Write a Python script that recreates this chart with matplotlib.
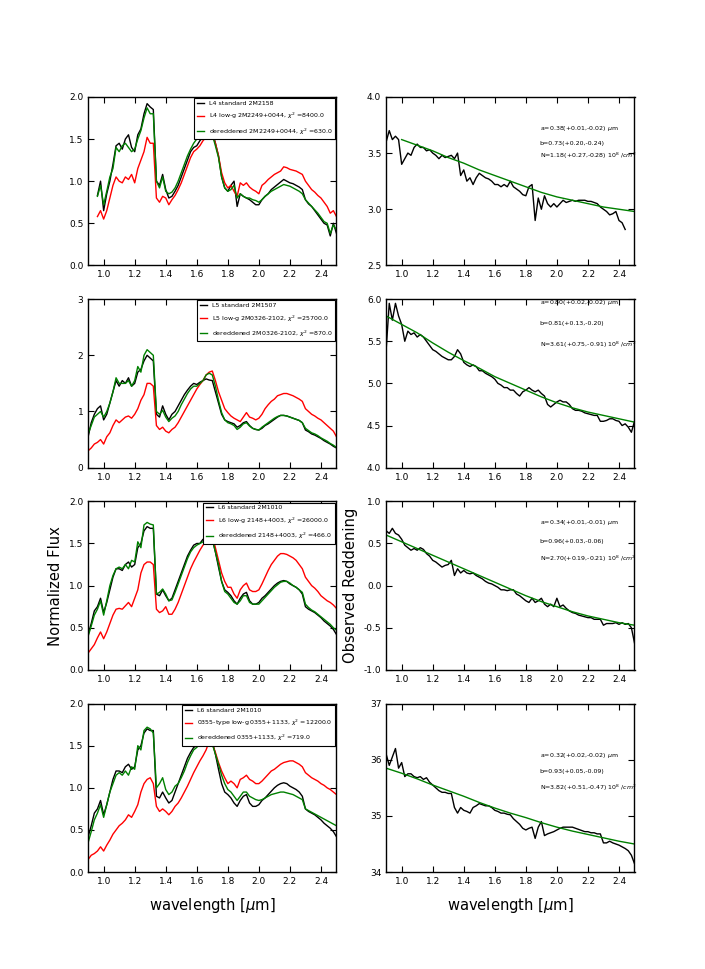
import matplotlib
matplotlib.use("Agg")
import matplotlib.pyplot as plt
from matplotlib.ticker import MultipleLocator

# wavelength grid of the spectra (micron)
wave = [0.90, 0.92, 0.94, 0.96, 0.98, 1.00, 1.02, 1.04, 1.06, 1.08,
        1.10, 1.12, 1.14, 1.16, 1.18, 1.20, 1.22, 1.24, 1.26, 1.28,
        1.30, 1.32, 1.34, 1.36, 1.38, 1.40, 1.42, 1.44, 1.46, 1.48,
        1.50, 1.52, 1.54, 1.56, 1.58, 1.60, 1.62, 1.64, 1.66, 1.68,
        1.70, 1.72, 1.74, 1.76, 1.78, 1.80, 1.82, 1.84, 1.86, 1.88,
        1.90, 1.92, 1.94, 1.96, 1.98, 2.00, 2.02, 2.04, 2.06, 2.08,
        2.10, 2.12, 2.14, 2.16, 2.18, 2.20, 2.22, 2.24, 2.26, 2.28,
        2.30, 2.32, 2.34, 2.36, 2.38, 2.40, 2.42, 2.44, 2.46, 2.48,
        2.50]
wave_l4 = wave[3:]          # L4 spectra start at 0.96
fit_wave = [0.9, 1.0, 1.1, 1.2, 1.3, 1.4, 1.5, 1.6, 1.7, 1.8,
            1.9, 2.0, 2.1, 2.2, 2.3, 2.4, 2.5]

# ---- row 1: L4 ----
std_l4 = [0.83, 1.00, 0.65, 0.85, 1.00, 1.20, 1.42, 1.45, 1.38, 1.50,
          1.55, 1.40, 1.35, 1.55, 1.62, 1.80, 1.92, 1.88, 1.85, 1.00,
          0.95, 1.08, 0.90, 0.80, 0.82, 0.88, 0.95, 1.05, 1.15, 1.25,
          1.35, 1.40, 1.42, 1.48, 1.52, 1.55, 1.58, 1.60, 1.45, 1.30,
          1.05, 0.92, 0.88, 0.95, 1.00, 0.70, 0.85, 0.82, 0.80, 0.78,
          0.75, 0.72, 0.72, 0.78, 0.82, 0.85, 0.90, 0.93, 0.96, 0.99,
          1.02, 1.00, 0.98, 0.97, 0.95, 0.93, 0.90, 0.78, 0.73, 0.70,
          0.65, 0.60, 0.55, 0.50, 0.48, 0.35, 0.50, 0.38]
lowg_l4 = [0.58, 0.65, 0.55, 0.65, 0.80, 0.95, 1.05, 1.00, 0.98, 1.05,
           1.02, 1.08, 0.98, 1.15, 1.25, 1.35, 1.52, 1.45, 1.45, 0.80,
           0.75, 0.82, 0.80, 0.72, 0.78, 0.83, 0.90, 0.98, 1.08, 1.18,
           1.28, 1.35, 1.38, 1.42, 1.48, 1.52, 1.58, 1.55, 1.45, 1.30,
           1.10, 0.98, 0.92, 0.95, 0.88, 0.82, 0.98, 0.95, 0.98, 0.93,
           0.90, 0.88, 0.85, 0.95, 0.98, 1.02, 1.05, 1.08, 1.10, 1.12,
           1.17, 1.16, 1.14, 1.13, 1.12, 1.10, 1.08, 1.00, 0.95, 0.90,
           0.87, 0.83, 0.80, 0.75, 0.70, 0.62, 0.65, 0.58]
dered_l4 = [0.82, 0.95, 0.72, 0.88, 1.05, 1.15, 1.40, 1.35, 1.42, 1.45,
            1.40, 1.35, 1.38, 1.50, 1.60, 1.75, 1.87, 1.80, 1.80, 1.00,
            0.92, 1.05, 0.88, 0.85, 0.87, 0.92, 1.00, 1.10, 1.20, 1.30,
            1.38, 1.45, 1.50, 1.52, 1.55, 1.58, 1.60, 1.55, 1.42, 1.28,
            1.05, 0.92, 0.88, 0.90, 0.95, 0.80, 0.85, 0.82, 0.80, 0.80,
            0.78, 0.77, 0.75, 0.78, 0.82, 0.85, 0.88, 0.90, 0.92, 0.94,
            0.96, 0.95, 0.94, 0.92, 0.90, 0.88, 0.85, 0.78, 0.74, 0.70,
            0.66, 0.62, 0.57, 0.52, 0.50, 0.38, 0.48, 0.42]

# ---- row 2: L5 ----
std_l5 = [0.55, 0.80, 0.95, 1.05, 1.10, 0.85, 0.95, 1.15, 1.35, 1.55,
          1.45, 1.55, 1.50, 1.60, 1.45, 1.50, 1.70, 1.75, 1.90, 2.00,
          1.95, 1.90, 0.95, 0.90, 1.10, 0.95, 0.85, 0.95, 1.00, 1.10,
          1.20, 1.30, 1.38, 1.45, 1.50, 1.48, 1.52, 1.55, 1.58, 1.56,
          1.55, 1.35, 1.15, 0.95, 0.85, 0.82, 0.80, 0.78, 0.72, 0.75,
          0.80, 0.82, 0.75, 0.70, 0.68, 0.67, 0.70, 0.75, 0.78, 0.82,
          0.86, 0.90, 0.93, 0.93, 0.92, 0.90, 0.88, 0.86, 0.84, 0.80,
          0.67, 0.64, 0.60, 0.58, 0.55, 0.52, 0.48, 0.45, 0.42, 0.38,
          0.35]
lowg_l5 = [0.30, 0.35, 0.42, 0.45, 0.50, 0.42, 0.55, 0.62, 0.75, 0.85,
           0.80, 0.85, 0.90, 0.92, 0.88, 0.95, 1.05, 1.20, 1.30, 1.50,
           1.50, 1.45, 0.75, 0.68, 0.72, 0.65, 0.62, 0.68, 0.72, 0.80,
           0.90, 1.00, 1.10, 1.20, 1.30, 1.40, 1.48, 1.55, 1.65, 1.70,
           1.72, 1.55, 1.35, 1.20, 1.05, 0.98, 0.92, 0.88, 0.85, 0.82,
           0.90, 0.98, 0.90, 0.88, 0.85, 0.88, 0.95, 1.05, 1.12, 1.18,
           1.22, 1.28, 1.30, 1.32, 1.32, 1.30, 1.28, 1.25, 1.22, 1.18,
           1.05, 1.00, 0.95, 0.92, 0.88, 0.85, 0.80, 0.75, 0.70, 0.65,
           0.55]
dered_l5 = [0.60, 0.75, 0.90, 0.95, 1.00, 0.90, 1.00, 1.15, 1.35, 1.60,
            1.50, 1.50, 1.50, 1.55, 1.45, 1.55, 1.80, 1.70, 2.00, 2.10,
            2.05, 2.00, 1.00, 0.95, 1.02, 0.90, 0.82, 0.88, 0.92, 1.00,
            1.12, 1.22, 1.32, 1.40, 1.45, 1.45, 1.50, 1.55, 1.65, 1.68,
            1.65, 1.45, 1.20, 0.98, 0.85, 0.80, 0.78, 0.75, 0.68, 0.72,
            0.78, 0.80, 0.74, 0.70, 0.68, 0.67, 0.72, 0.76, 0.80, 0.84,
            0.88, 0.91, 0.93, 0.93, 0.92, 0.90, 0.88, 0.86, 0.84, 0.80,
            0.70, 0.66, 0.62, 0.60, 0.57, 0.53, 0.50, 0.47, 0.43, 0.40,
            0.36]

# ---- rows 3 and 4: L6 standard ----
std_l6 = [0.42, 0.55, 0.70, 0.75, 0.85, 0.68, 0.80, 0.95, 1.10, 1.20,
          1.20, 1.18, 1.25, 1.28, 1.22, 1.25, 1.45, 1.50, 1.65, 1.70,
          1.68, 1.68, 0.90, 0.88, 0.95, 0.88, 0.82, 0.85, 0.95, 1.05,
          1.15, 1.25, 1.35, 1.42, 1.48, 1.50, 1.50, 1.55, 1.55, 1.60,
          1.55, 1.40, 1.22, 1.05, 0.95, 0.92, 0.88, 0.82, 0.78, 0.85,
          0.90, 0.92, 0.82, 0.78, 0.78, 0.80, 0.85, 0.88, 0.92, 0.96,
          1.00, 1.03, 1.05, 1.06, 1.05, 1.02, 1.00, 0.98, 0.95, 0.90,
          0.75, 0.72, 0.70, 0.68, 0.65, 0.62, 0.58, 0.55, 0.52, 0.48,
          0.42]
lowg_2148 = [0.20, 0.25, 0.30, 0.38, 0.45, 0.37, 0.45, 0.55, 0.65, 0.72,
             0.73, 0.72, 0.76, 0.80, 0.75, 0.85, 0.95, 1.15, 1.25, 1.28,
             1.28, 1.25, 0.72, 0.68, 0.70, 0.75, 0.66, 0.66, 0.72, 0.80,
             0.90, 1.00, 1.10, 1.20, 1.28, 1.35, 1.42, 1.48, 1.52, 1.58,
             1.60, 1.45, 1.30, 1.15, 1.05, 0.98, 0.98, 0.90, 0.85, 0.95,
             1.00, 1.03, 0.95, 0.93, 0.93, 0.95, 1.02, 1.10, 1.18, 1.25,
             1.30, 1.35, 1.38, 1.38, 1.37, 1.35, 1.33, 1.30, 1.25, 1.20,
             1.10, 1.05, 1.00, 0.97, 0.93, 0.88, 0.85, 0.82, 0.80, 0.77,
             0.73]
dered_2148 = [0.40, 0.52, 0.65, 0.72, 0.82, 0.65, 0.82, 1.00, 1.12, 1.20,
              1.22, 1.20, 1.25, 1.20, 1.30, 1.28, 1.52, 1.45, 1.72, 1.75,
              1.73, 1.72, 0.90, 0.92, 0.96, 0.90, 0.82, 0.83, 0.92, 1.02,
              1.12, 1.22, 1.32, 1.40, 1.45, 1.48, 1.50, 1.52, 1.55, 1.62,
              1.55, 1.40, 1.25, 1.05, 0.93, 0.90, 0.85, 0.80, 0.78, 0.82,
              0.88, 0.88, 0.80, 0.78, 0.78, 0.78, 0.82, 0.86, 0.90, 0.94,
              0.98, 1.01, 1.04, 1.05, 1.05, 1.03, 1.00, 0.98, 0.95, 0.92,
              0.78, 0.74, 0.71, 0.69, 0.66, 0.63, 0.60, 0.57, 0.54, 0.50,
              0.47]
lowg_0355 = [0.15, 0.20, 0.22, 0.25, 0.30, 0.25, 0.32, 0.38, 0.45, 0.50,
             0.55, 0.58, 0.62, 0.68, 0.65, 0.72, 0.80, 0.95, 1.05, 1.10,
             1.12, 1.05, 0.78, 0.72, 0.75, 0.72, 0.68, 0.72, 0.78, 0.82,
             0.88, 0.95, 1.02, 1.10, 1.18, 1.25, 1.32, 1.38, 1.45, 1.55,
             1.52, 1.42, 1.30, 1.20, 1.12, 1.05, 1.08, 1.05, 1.00, 1.10,
             1.12, 1.15, 1.10, 1.08, 1.05, 1.05, 1.08, 1.12, 1.16, 1.20,
             1.22, 1.25, 1.28, 1.30, 1.31, 1.32, 1.32, 1.30, 1.28, 1.25,
             1.18, 1.15, 1.12, 1.10, 1.08, 1.05, 1.03, 1.00, 0.98, 0.95,
             0.92]
dered_0355 = [0.35, 0.48, 0.62, 0.70, 0.80, 0.65, 0.80, 0.95, 1.05, 1.15,
              1.18, 1.15, 1.20, 1.15, 1.25, 1.22, 1.50, 1.45, 1.68, 1.72,
              1.70, 1.65, 1.00, 1.05, 1.12, 0.98, 0.92, 0.95, 1.02, 1.05,
              1.12, 1.20, 1.30, 1.38, 1.45, 1.48, 1.52, 1.55, 1.58, 1.60,
              1.52, 1.40, 1.28, 1.15, 1.05, 0.98, 0.95, 0.90, 0.85, 0.90,
              0.95, 0.95, 0.90, 0.88, 0.86, 0.85, 0.86, 0.88, 0.90, 0.92,
              0.93, 0.94, 0.95, 0.95, 0.94, 0.93, 0.92, 0.90, 0.88, 0.86,
              0.75, 0.73, 0.71, 0.69, 0.67, 0.65, 0.63, 0.61, 0.59, 0.57,
              0.55]

# ---- observed reddening (right column) ----
redd_l4 = [3.60, 3.70, 3.62, 3.65, 3.62, 3.40, 3.45, 3.50, 3.48, 3.55,
           3.58, 3.55, 3.55, 3.52, 3.53, 3.50, 3.48, 3.45, 3.48, 3.46,
           3.47, 3.48, 3.45, 3.50, 3.30, 3.35, 3.25, 3.28, 3.22, 3.28,
           3.32, 3.30, 3.28, 3.27, 3.25, 3.22, 3.22, 3.20, 3.22, 3.20,
           3.25, 3.20, 3.18, 3.16, 3.13, 3.12, 3.20, 3.22, 2.90, 3.10,
           3.00, 3.12, 3.05, 3.02, 3.05, 3.02, 3.05, 3.08, 3.06, 3.07,
           3.08, 3.07, 3.08, 3.08, 3.08, 3.07, 3.07, 3.06, 3.05, 3.02,
           3.00, 2.98, 2.95, 2.96, 2.98, 2.90, 2.88, 2.82]
fit_l4 = [3.65, 3.62, 3.57, 3.52, 3.46, 3.41, 3.35, 3.30, 3.25, 3.20,
          3.15, 3.11, 3.08, 3.05, 3.02, 3.00, 2.98]
redd_l5 = [5.40, 5.95, 5.75, 5.95, 5.80, 5.70, 5.50, 5.62, 5.58, 5.60,
           5.55, 5.58, 5.55, 5.50, 5.45, 5.40, 5.38, 5.35, 5.32, 5.30,
           5.28, 5.28, 5.32, 5.40, 5.35, 5.25, 5.22, 5.20, 5.22, 5.20,
           5.15, 5.15, 5.12, 5.10, 5.08, 5.05, 5.00, 4.98, 4.95, 4.95,
           4.92, 4.92, 4.88, 4.85, 4.90, 4.92, 4.95, 4.92, 4.90, 4.92,
           4.88, 4.85, 4.75, 4.72, 4.75, 4.78, 4.80, 4.78, 4.78, 4.75,
           4.70, 4.68, 4.68, 4.67, 4.65, 4.64, 4.63, 4.62, 4.62, 4.55,
           4.55, 4.56, 4.58, 4.58, 4.56, 4.55, 4.50, 4.52, 4.48, 4.42,
           4.55]
fit_l5 = [5.80, 5.70, 5.60, 5.48, 5.37, 5.27, 5.18, 5.08, 5.00, 4.92,
          4.84, 4.77, 4.71, 4.66, 4.62, 4.58, 4.54]
redd_2148 = [0.65, 0.62, 0.68, 0.62, 0.60, 0.55, 0.48, 0.45, 0.42, 0.44,
             0.42, 0.45, 0.43, 0.38, 0.35, 0.30, 0.28, 0.25, 0.22, 0.24,
             0.25, 0.30, 0.12, 0.20, 0.15, 0.18, 0.15, 0.14, 0.15, 0.12,
             0.10, 0.08, 0.05, 0.03, 0.02, 0.00, -0.02, -0.05, -0.05, -0.06,
             -0.05, -0.05, -0.10, -0.12, -0.15, -0.18, -0.20, -0.15, -0.20, -0.18,
             -0.15, -0.22, -0.25, -0.22, -0.25, -0.15, -0.25, -0.23, -0.27, -0.30,
             -0.32, -0.33, -0.35, -0.36, -0.37, -0.38, -0.38, -0.40, -0.40, -0.40,
             -0.47, -0.45, -0.45, -0.45, -0.44, -0.46, -0.44, -0.46, -0.45, -0.50,
             -0.68]
fit_2148 = [0.60, 0.52, 0.44, 0.36, 0.28, 0.20, 0.12, 0.04, -0.04, -0.12,
            -0.19, -0.25, -0.31, -0.36, -0.40, -0.44, -0.47]
redd_0355 = [36.10, 35.90, 36.05, 36.20, 35.85, 35.95, 35.70, 35.75, 35.75, 35.70,
             35.68, 35.70, 35.65, 35.68, 35.60, 35.55, 35.50, 35.45, 35.42, 35.42,
             35.40, 35.40, 35.15, 35.05, 35.15, 35.10, 35.08, 35.05, 35.15, 35.18,
             35.22, 35.20, 35.18, 35.18, 35.15, 35.10, 35.08, 35.05, 35.05, 35.03,
             35.02, 34.95, 34.90, 34.85, 34.78, 34.75, 34.78, 34.80, 34.60, 34.80,
             34.90, 34.65, 34.68, 34.70, 34.72, 34.75, 34.78, 34.80, 34.80, 34.80,
             34.80, 34.78, 34.76, 34.74, 34.72, 34.72, 34.70, 34.70, 34.68, 34.68,
             34.52, 34.52, 34.55, 34.52, 34.50, 34.48, 34.45, 34.42, 34.38, 34.30,
             34.15]
fit_0355 = [35.85, 35.76, 35.66, 35.55, 35.45, 35.35, 35.24, 35.14, 35.05, 34.97,
            34.88, 34.80, 34.73, 34.67, 34.61, 34.55, 34.50]

legend_labels = [
    ["L4 standard 2M2158",
     r"L4 low-g 2M2249+0044, $\chi^2$ =8400.0",
     r"dereddened 2M2249+0044, $\chi^2$ =630.0"],
    ["L5 standard 2M1507",
     r"L5 low-g 2M0326-2102, $\chi^2$ =25700.0",
     r"dereddened 2M0326-2102, $\chi^2$ =870.0"],
    ["L6 standard 2M1010",
     r"L6 low-g 2148+4003, $\chi^2$ =26000.0",
     r"dereddened 2148+4003, $\chi^2$ =466.0"],
    ["L6 standard 2M1010",
     r"0355-type low-g 0355+1133, $\chi^2$ =12200.0",
     r"dereddened 0355+1133, $\chi^2$ =719.0"],
]
fit_params = [
    [r"a=0.38(+0.01,-0.02) $\mu$m", "b=0.73(+0.20,-0.24)",
     r"N=1.18(+0.27,-0.28) 10$^8$ $/cm^2$"],
    [r"a=0.80(+0.02,-0.02) $\mu$m", "b=0.81(+0.13,-0.20)",
     r"N=3.61(+0.75,-0.91) 10$^8$ $/cm^2$"],
    [r"a=0.34(+0.01,-0.01) $\mu$m", "b=0.96(+0.03,-0.06)",
     r"N=2.70(+0.19,-0.21) 10$^8$ $/cm^2$"],
    [r"a=0.32(+0.02,-0.02) $\mu$m", "b=0.93(+0.05,-0.09)",
     r"N=3.82(+0.51,-0.47) 10$^8$ $/cm^2$"],
]

left_series = [
    (wave_l4, std_l4, lowg_l4, dered_l4),
    (wave, std_l5, lowg_l5, dered_l5),
    (wave, std_l6, lowg_2148, dered_2148),
    (wave, std_l6, lowg_0355, dered_0355),
]
right_series = [
    (wave[:len(redd_l4)], redd_l4, fit_wave, fit_l4),
    (wave, redd_l5, fit_wave, fit_l5),
    (wave, redd_2148, fit_wave, fit_2148),
    (wave, redd_0355, fit_wave, fit_0355),
]
left_ylims = [(0, 2), (0, 3), (0, 2), (0, 2)]
left_ystep = [0.5, 1, 0.5, 0.5]
right_ylims = [(2.5, 4.0), (4.0, 6.0), (-1.0, 1.0), (34, 37)]
right_ystep = [0.5, 0.5, 0.5, 1]
# text positions (axes fraction) for the fit parameters
text_y = [(0.815, 0.726, 0.649), (0.98, 0.857, 0.726),
          (0.874, 0.76, 0.66), (0.69, 0.595, 0.50)]

plt.rcParams.update({
    "font.family": "DejaVu Sans",
    "xtick.direction": "in",
    "ytick.direction": "in",
    "xtick.top": True,
    "ytick.right": True,
    "xtick.major.size": 4,
    "ytick.major.size": 4,
    "xtick.labelsize": 6.5,
    "ytick.labelsize": 6.5,
    "axes.linewidth": 1.0,
    "mathtext.fontset": "dejavusans",
})

fig, axes = plt.subplots(4, 2, figsize=(7.05, 9.69), dpi=100)
fig.subplots_adjust(left=0.125, right=0.9, bottom=0.1, top=0.9,
                    wspace=0.2, hspace=0.2)

for i in range(4):
    ax = axes[i, 0]
    w, s, lg, dr = left_series[i]
    ax.plot(w, s, color="k", lw=1.0, label=legend_labels[i][0])
    ax.plot(w, lg, color="r", lw=1.0, label=legend_labels[i][1])
    ax.plot(w, dr, color="g", lw=1.0, label=legend_labels[i][2])
    ax.set_xlim(0.9, 2.5)
    ax.set_ylim(*left_ylims[i])
    ax.xaxis.set_major_locator(MultipleLocator(0.2))
    ax.yaxis.set_major_locator(MultipleLocator(left_ystep[i]))
    if left_ystep[i] == 1:
        ax.yaxis.set_major_formatter(plt.FormatStrFormatter("%d"))
    else:
        ax.yaxis.set_major_formatter(plt.FormatStrFormatter("%.1f"))
    ax.xaxis.set_major_formatter(plt.FormatStrFormatter("%.1f"))
    ax.set_xticks([1.0, 1.2, 1.4, 1.6, 1.8, 2.0, 2.2, 2.4])
    leg = ax.legend(loc="upper right", fontsize=4.5, handlelength=1.2,
                    labelspacing=0.8, borderaxespad=0.2, fancybox=False,
                    framealpha=1.0)
    leg.get_frame().set_edgecolor("k")
    leg.get_frame().set_linewidth(0.8)

    ax = axes[i, 1]
    w, r, fw, f = right_series[i]
    ax.plot(w, r, color="k", lw=1.0)
    # the first fit starts just short of 1.0 micron
    fw_use = fw[1:] if i == 0 else fw
    f_use = f[1:] if i == 0 else f
    ax.plot(fw_use, f_use, color="g", lw=1.0)
    ax.set_xlim(0.9, 2.5)
    ax.set_ylim(*right_ylims[i])
    ax.set_xticks([1.0, 1.2, 1.4, 1.6, 1.8, 2.0, 2.2, 2.4])
    ax.xaxis.set_major_formatter(plt.FormatStrFormatter("%.1f"))
    ax.yaxis.set_major_locator(MultipleLocator(right_ystep[i]))
    if right_ystep[i] == 1:
        ax.yaxis.set_major_formatter(plt.FormatStrFormatter("%d"))
    else:
        ax.yaxis.set_major_formatter(plt.FormatStrFormatter("%.1f"))
    for txt, ty in zip(fit_params[i], text_y[i]):
        ax.text(0.618, ty, txt, transform=ax.transAxes, fontsize=4.5,
                va="center", ha="left")

axes[3, 0].set_xlabel(r"wavelength [$\mu$m]", fontsize=10.6, labelpad=7)
axes[3, 1].set_xlabel(r"wavelength [$\mu$m]", fontsize=10.6, labelpad=7)

# y labels sit beside the third row
axes[2, 0].set_ylabel("Normalized Flux", fontsize=10.6)
axes[2, 1].set_ylabel("Observed Reddening", fontsize=10.6)

fig.savefig("out.png", dpi=100, facecolor="white")
